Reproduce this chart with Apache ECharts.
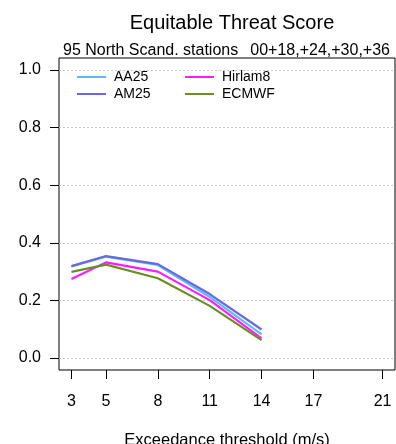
<!DOCTYPE html>
<html>
<head>
<meta charset="utf-8">
<script src="https://cdn.jsdelivr.net/npm/echarts@6/dist/echarts.min.js"></script>
<style>
  html, body { margin: 0; padding: 0; background: #fff; }
  #chart { width: 396px; height: 444px; }
</style>
</head>
<body>
<div id="chart"></div>
<script>
// thresholds (m/s) and scores
const thresholds = [3, 5, 8, 11, 14];
const xTicks = [3, 5, 8, 11, 14, 17, 21];
const yTicks = [0, 0.2, 0.4, 0.6, 0.8, 1.0];

const aa25 = [0.318, 0.352, 0.323, 0.212, 0.082];
const am25 = [0.319, 0.354, 0.326, 0.222, 0.099];
const hirlam8 = [0.274, 0.332, 0.300, 0.201, 0.068];
const ecmwf = [0.299, 0.324, 0.277, 0.181, 0.062];

const font = 'Liberation Sans, Arial, sans-serif';

function pairs(vals) {
  return thresholds.map((t, i) => [t, vals[i]]);
}

function lineSeries(name, vals, color) {
  return {
    name: name,
    type: 'line',
    xAxisIndex: 0,
    yAxisIndex: 0,
    data: pairs(vals),
    symbol: 'none',
    color: color,
    lineStyle: { width: 2.2, color: color },
    animation: false
  };
}

const chart = echarts.init(document.getElementById('chart'));
chart.setOption({
  animation: false,
  backgroundColor: '#fff',
  textStyle: { fontFamily: font },
  title: [
    {
      text: 'Equitable Threat Score',
      left: 227, top: 8, textAlign: 'center',
      textStyle: { fontFamily: font, fontSize: 20, fontWeight: 'normal', color: '#000' }
    },
    {
      text: '95 North Scand. stations',
      left: 58, top: 38,
      textStyle: { fontFamily: font, fontSize: 16, fontWeight: 'normal', color: '#000' }
    },
    {
      text: '00+18,+24,+30,+36',
      right: 1, top: 38,
      textStyle: { fontFamily: font, fontSize: 16, fontWeight: 'normal', color: '#000' }
    }
  ],
  legend: [
    {
      data: ['AA25', 'AM25'],
      orient: 'vertical',
      left: 72, top: 65,
      itemWidth: 29, itemHeight: 2, itemGap: 3,
      icon: 'rect',
      textStyle: { fontFamily: font, fontSize: 14, color: '#000', padding: [0, 0, 0, 3] }
    },
    {
      data: ['Hirlam8', 'ECMWF'],
      orient: 'vertical',
      left: 180, top: 65,
      itemWidth: 29, itemHeight: 2, itemGap: 3,
      icon: 'rect',
      textStyle: { fontFamily: font, fontSize: 14, color: '#000', padding: [0, 0, 0, 3] }
    }
  ],
  grid: [
    { left: 59, right: 1, top: 58, bottom: 74, show: true, borderColor: '#000', borderWidth: 1,
      backgroundColor: 'transparent', outerBoundsMode: 'none', containLabel: false },
    { left: 59, right: 1, top: 70, bottom: 86, show: false, outerBoundsMode: 'none', containLabel: false }
  ],
  xAxis: [
    {
      type: 'value', gridIndex: 0, min: 2.28, max: 21.72,
      name: 'Exceedance threshold (m/s)',
      nameLocation: 'middle', nameGap: 62,
      nameTextStyle: { fontFamily: font, fontSize: 16.5, color: '#000', verticalAlign: 'top' },
      axisLine: { show: false, onZero: false },
      splitLine: { show: false },
      axisTick: { show: true, customValues: xTicks, length: 9, lineStyle: { color: '#000' } },
      axisLabel: { customValues: xTicks, margin: 24, fontFamily: font, fontSize: 16, color: '#000' }
    },
    {
      type: 'value', gridIndex: 1, min: 0, max: 1, show: false
    }
  ],
  yAxis: [
    {
      type: 'value', gridIndex: 0, min: -0.0417, max: 1.0417,
      show: false
    },
    {
      type: 'value', gridIndex: 1, min: 0, max: 1, interval: 0.2,
      axisLine: { show: false },
      axisTick: { show: true, length: 9, lineStyle: { color: '#000' } },
      axisLabel: {
        margin: 18, fontFamily: font, fontSize: 16, color: '#000',
        customValues: yTicks,
        formatter: v => v.toFixed(1)
      },
      splitLine: { show: true, lineStyle: { color: '#c8c8c8', type: [2, 2], width: 1 } }
    }
  ],
  series: [
    lineSeries('AA25', aa25, '#5cbcf8'),
    lineSeries('AM25', am25, '#6868e0'),
    lineSeries('Hirlam8', hirlam8, '#ff1aff'),
    lineSeries('ECMWF', ecmwf, '#6b8e23')
  ]
});
</script>
</body>
</html>
